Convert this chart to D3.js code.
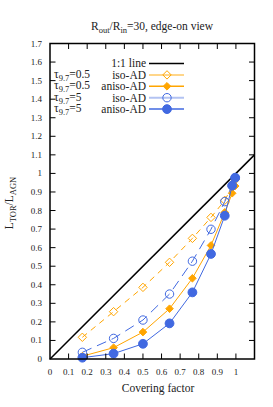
<!DOCTYPE html>
<html><head><meta charset="utf-8">
<script src="https://cdn.jsdelivr.net/npm/d3@7"></script>
<style>body{margin:0;background:#fff}svg{display:block;font-family:"Liberation Serif","Times New Roman",serif}</style>
</head><body><svg id="c" width="273" height="407"></svg>
<script>
const coverX = [0.174, 0.342, 0.5, 0.643, 0.766, 0.866, 0.94, 0.98, 0.996];
const tau05Iso   = [0.117, 0.255, 0.386, 0.521, 0.650, 0.763, 0.855, 0.93, 0.965];
const tau05Aniso = [0.015, 0.061, 0.145, 0.271, 0.435, 0.612, 0.79, 0.893, 0.932];
const tau5Iso    = [0.036, 0.111, 0.210, 0.350, 0.527, 0.699, 0.848, 0.935, 0.975];
const tau5Aniso  = [0.007, 0.029, 0.082, 0.192, 0.359, 0.566, 0.772, 0.934, 0.977];
const xTicks = [0,0.1,0.2,0.3,0.4,0.5,0.6,0.7,0.8,0.9,1];
const yTicks = [0,0.1,0.2,0.3,0.4,0.5,0.6,0.7,0.8,0.9,1,1.1,1.2,1.3,1.4,1.5,1.6,1.7];

const svg = d3.select("#c");
const L=50, R=254.5, T=43.5, B=359;
const x = d3.scaleLinear().domain([0,1.1]).range([L,R]);
const y = d3.scaleLinear().domain([0,1.7]).range([B,T]);

const ORANGE="#FFA500", BLUE="#4169E1";
const series = [
  {name:"iso05", v:tau05Iso, color:ORANGE, dash:"6,5", shape:"diamond", fill:false, size:4.2},
  {name:"iso5", v:tau5Iso, color:BLUE, dash:"10,6", shape:"circle", fill:false, size:4.2},
  {name:"an05", v:tau05Aniso, color:ORANGE, dash:null, shape:"diamond", fill:true, size:3.8},
  {name:"an5", v:tau5Aniso, color:BLUE, dash:null, shape:"circle", fill:true, size:4.4},
];

// 1:1 line
svg.append("line").attr("x1",x(0)).attr("y1",y(0)).attr("x2",x(1.1)).attr("y2",y(1.1))
  .attr("stroke","#000").attr("stroke-width",1.5);

function marker(g, shape, cx, cy, s, color, fill){
  if(shape==="diamond"){
    g.append("path").attr("d",`M${cx},${cy-s}L${cx+s},${cy}L${cx},${cy+s}L${cx-s},${cy}Z`)
     .attr("fill",fill?color:"#fff").attr("fill-opacity",fill?1:0).attr("stroke",color).attr("stroke-width",1);
  } else {
    g.append("circle").attr("cx",cx).attr("cy",cy).attr("r",s)
     .attr("fill",fill?color:"none").attr("stroke",color).attr("stroke-width",1);
  }
}

const line = d3.line().x((d,i)=>x(coverX[i])).y(d=>y(d));
series.forEach(s=>{
  const g = svg.append("g");
  g.append("path").attr("d",line(s.v)).attr("fill","none").attr("stroke",s.color)
    .attr("stroke-width",1).attr("stroke-dasharray",s.dash);
  s.v.forEach((d,i)=>marker(g,s.shape,x(coverX[i]),y(d),s.size,s.color,s.fill));
});

// frame & ticks
const ax = svg.append("g").attr("stroke","#000");
xTicks.forEach(t=>{
  if(t===0) return;
  ax.append("line").attr("x1",x(t)).attr("x2",x(t)).attr("y1",B).attr("y2",B-5.5).attr("stroke-width",1);
  ax.append("line").attr("x1",x(t)).attr("x2",x(t)).attr("y1",T).attr("y2",T+5.5).attr("stroke-width",1);
});
yTicks.forEach(t=>{
  if(t===0||t===1.7) return;
  ax.append("line").attr("x1",L).attr("x2",L+5.5).attr("y1",y(t)).attr("y2",y(t)).attr("stroke-width",1);
  ax.append("line").attr("x1",R).attr("x2",R-5.5).attr("y1",y(t)).attr("y2",y(t)).attr("stroke-width",1);
});
svg.append("rect").attr("x",L).attr("y",T).attr("width",R-L).attr("height",B-T)
  .attr("fill","none").attr("stroke","#000").attr("stroke-width",1.5);

// tick labels
const fmt = d=> d===0?"0":(d===1?"1":d3.format(".1f")(d));
xTicks.forEach(t=>{
  svg.append("text").attr("x",x(t)).attr("y",375).attr("text-anchor","middle")
   .attr("font-size",9).attr("fill","#222").text(fmt(t));
});
yTicks.forEach(t=>{
  svg.append("text").attr("x",42).attr("y",y(t)+3).attr("text-anchor","end")
   .attr("font-size",9).attr("fill","#222").text(fmt(t));
});

// axis titles
svg.append("text").attr("x",158).attr("y",392).attr("text-anchor","middle").attr("font-size",11.5)
  .attr("fill","#222").text("Covering factor");
const yl = svg.append("text").attr("transform","translate(13,203) rotate(-90)").attr("text-anchor","middle")
  .attr("font-size",11.5).attr("fill","#222");
yl.append("tspan").text("L");
yl.append("tspan").attr("dy",3).attr("font-size",8.5).text("TOR");
yl.append("tspan").attr("dy",-3).text("/L");
yl.append("tspan").attr("dy",3).attr("font-size",8.5).text("AGN");

// title
const tt = svg.append("text").attr("x",152).attr("y",30).attr("text-anchor","middle").attr("font-size",11.5).attr("fill","#222");
tt.append("tspan").text("R");
tt.append("tspan").attr("dy",3).attr("font-size",8.5).text("out");
tt.append("tspan").attr("dy",-3).text("/R");
tt.append("tspan").attr("dy",3).attr("font-size",8.5).text("in");
tt.append("tspan").attr("dy",-3).text("=30, edge-on view");

// legend
const legRows = [
  {tau:null, lab:"1:1 line", color:"#000", lw:1.5, shape:null},
  {tau:"0.5", lab:"iso-AD", color:"#FFD68A", mcolor:ORANGE, lw:2, shape:"diamond", fill:false, size:4.2},
  {tau:"0.5", lab:"aniso-AD", color:ORANGE, mcolor:ORANGE, lw:1.5, shape:"diamond", fill:true, size:3.8},
  {tau:"5", lab:"iso-AD", color:"#B3C3F2", mcolor:BLUE, lw:2, shape:"circle", fill:false, size:4.2},
  {tau:"5", lab:"aniso-AD", color:BLUE, mcolor:BLUE, lw:1.5, shape:"circle", fill:true, size:4.4},
];
const lg = svg.append("g");
legRows.forEach((r,i)=>{
  const yy = 63.5 + i*11.4;
  lg.append("text").attr("x",146).attr("y",yy+3.8).attr("text-anchor","end").attr("font-size",11.5).attr("fill","#222").text(r.lab);
  lg.append("line").attr("x1",149).attr("x2",184).attr("y1",yy).attr("y2",yy).attr("stroke",r.color).attr("stroke-width",r.lw);
  if(r.shape) marker(lg,r.shape,167,yy,r.size,r.mcolor,r.fill);
  if(r.tau){
    const t = lg.append("text").attr("x",54).attr("y",yy+3).attr("font-size",11.5).attr("fill","#222");
    t.append("tspan").text("τ");
    t.append("tspan").attr("dy",3).attr("font-size",8.5).text("9.7");
    t.append("tspan").attr("dy",-3).text("="+r.tau);
  }
});
</script></body></html>
